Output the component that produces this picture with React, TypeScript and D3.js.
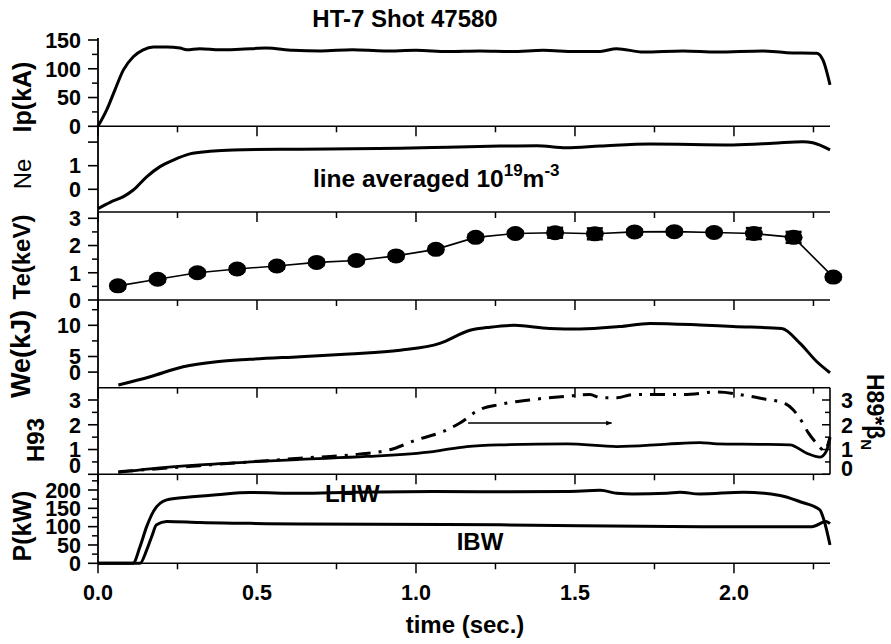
import React from 'react';
import * as d3 from 'd3';

// ---------------- DATA ----------------
const chartTitle = 'HT-7 Shot 47580';
const xTitle = 'time (sec.)';
const xMajorTicks = [0, 0.5, 1.0, 1.5, 2.0];
const xMajorLabels = ['0.0', '0.5', '1.0', '1.5', '2.0'];
const xMinorTicks = [0.25, 0.75, 1.25, 1.75, 2.25];

// Plasma current Ip (kA)
const ipT = [0, 0.027, 0.053, 0.08, 0.111, 0.142, 0.174, 0.216, 0.258, 0.279, 0.32, 0.384, 0.447, 0.53, 0.614, 0.7, 0.8, 0.9, 1.0, 1.1, 1.2, 1.3, 1.4, 1.5, 1.579, 1.631, 1.715, 1.84, 1.946, 2.091, 2.166, 2.26, 2.28, 2.302];
const ipV = [0, 28, 63, 98, 121, 133, 138, 138, 136, 133, 135, 133, 134, 136, 132, 131, 133, 131, 132, 130, 131, 130, 132, 130, 130, 135, 129, 131, 129, 131, 128, 127, 115, 72];

// Line averaged density Ne (10^19 m^-3)
const neT = [0, 0.038, 0.08, 0.111, 0.153, 0.195, 0.237, 0.289, 0.352, 0.425, 0.635, 0.8, 0.95, 1.1, 1.264, 1.38, 1.472, 1.579, 1.736, 1.997, 2.123, 2.217, 2.248, 2.302];
const neV = [-0.82, -0.55, -0.31, -0.03, 0.53, 0.96, 1.24, 1.5, 1.61, 1.67, 1.7, 1.72, 1.74, 1.78, 1.83, 1.85, 1.76, 1.83, 1.92, 1.88, 1.95, 2.02, 1.97, 1.67];

// Electron temperature Te (keV) with error bars
const teT = [0.0625, 0.1875, 0.3125, 0.4375, 0.5625, 0.6875, 0.8125, 0.9375, 1.0625, 1.1875, 1.3125, 1.4375, 1.5625, 1.6875, 1.8125, 1.9375, 2.0625, 2.1875, 2.3125];
const teV = [0.52, 0.76, 1.0, 1.14, 1.25, 1.38, 1.45, 1.62, 1.86, 2.3, 2.44, 2.47, 2.43, 2.5, 2.51, 2.48, 2.44, 2.3, 0.84];
const teErr = [0.1, 0.1, 0.1, 0.1, 0.1, 0.1, 0.1, 0.1, 0.1, 0.1, 0.1, 0.18, 0.2, 0.1, 0.1, 0.1, 0.2, 0.2, 0.1];

// Stored energy We (kJ)
const weT = [0.064, 0.164, 0.268, 0.373, 0.478, 0.635, 0.79, 0.95, 1.075, 1.17, 1.233, 1.31, 1.42, 1.516, 1.64, 1.736, 1.893, 1.997, 2.15, 2.208, 2.26, 2.302];
const weV = [0.43, 1.76, 3.37, 4.17, 4.55, 4.97, 5.4, 6.0, 7.1, 9.2, 9.7, 10.0, 9.5, 9.4, 9.8, 10.3, 10.05, 9.8, 9.5, 7.1, 4.2, 2.4];

// H93 (solid, left axis)
const h93T = [0.064, 0.164, 0.32, 0.478, 0.635, 0.845, 1.054, 1.16, 1.265, 1.475, 1.632, 1.79, 1.893, 1.946, 2.08, 2.176, 2.229, 2.27, 2.29, 2.302];
const h93V = [0.08, 0.22, 0.38, 0.5, 0.6, 0.72, 0.92, 1.12, 1.19, 1.23, 1.12, 1.22, 1.28, 1.23, 1.21, 1.19, 0.85, 0.69, 0.92, 1.46];

// H89*betaN (dash-dot, right axis)
const hbT = [0.064, 0.164, 0.32, 0.478, 0.635, 0.79, 0.918, 1.002, 1.086, 1.138, 1.2, 1.264, 1.368, 1.474, 1.547, 1.579, 1.632, 1.682, 1.84, 1.946, 2.05, 2.103, 2.155, 2.186, 2.213, 2.234, 2.26, 2.285, 2.302];
const hbV = [0.1, 0.2, 0.35, 0.5, 0.65, 0.78, 0.99, 1.39, 1.73, 2.07, 2.61, 2.82, 3.02, 3.15, 3.22, 3.1, 3.09, 3.22, 3.22, 3.32, 3.15, 3.02, 2.89, 2.61, 2.14, 1.67, 1.25, 0.95, 1.5];

// Heating power P (kW)
const lhwT = [0, 0.11, 0.132, 0.153, 0.174, 0.216, 0.28, 0.373, 0.478, 0.635, 0.8, 1.054, 1.3, 1.474, 1.579, 1.632, 1.682, 1.79, 1.83, 1.893, 2.03, 2.145, 2.208, 2.27, 2.283, 2.302];
const lhwV = [0, 0, 45, 100, 141, 173, 180, 187, 193, 191, 194, 196, 195, 196, 199, 191, 189, 191, 194, 189, 194, 185, 168, 146, 118, 50];
const ibwT = [0, 0.132, 0.153, 0.169, 0.184, 0.216, 0.32, 0.478, 0.635, 1.265, 1.9, 2.2, 2.245, 2.29, 2.302];
const ibwV = [0, 0, 36, 73, 105, 114, 111, 109, 107, 105, 100, 100, 100, 114, 108];

// Annotations (data coordinates)
const arrowStart = [1.164, 2.07];
const arrowEnd = [1.615, 2.07];

// Axis ticks / labels per panel
const ipTicks = [0, 50, 100, 150];
const ipMinor = [25, 75, 125];
const ipLabelVals = [0, 50, 100, 150];
const ipLabels = ['0', '50', '100', '150'];
const neTicks = [0, 1, 2];
const neMinor: number[] = [];
const neLabelVals = [0, 1];
const neLabels = ['0', '1'];
const teTicks = [0, 1, 2, 3];
const teMinor = [0.5, 1.5, 2.5];
const teLabelVals = [0, 1, 2, 3];
const teLabels = ['0', '1', '2', '3'];
const weTicks = [2.5, 5, 10];
const weMinor = [7.5, 12.5];
const weLabelVals = [2.5, 5, 10];
const weLabels = ['0', '5', '10'];
const h93Ticks = [0, 1, 2, 3];
const h93Minor = [0.5, 1.5, 2.5];
const h93LabelVals = [0.38, 1, 2, 3];
const h93Labels = ['0', '1', '2', '3'];
const hbLabelVals = [0.26, 1, 2, 3];
const hbLabels = ['0', '1', '2', '3'];
const pTicks = [0, 50, 100, 150, 200];
const pMinor = [25, 75, 125, 175, 225];
const pLabelVals = [0, 50, 100, 150, 200];
const pLabels = ['0', '50', '100', '150', '200'];

// ---------------- LAYOUT ----------------
const W = 891;
const H = 644;
const X0 = 98;
const X1 = 830;
const FONT = "'Liberation Sans', Arial, Helvetica, sans-serif";

const x = d3.scaleLinear().domain([0, 2.302]).range([X0, X1]);

const yIp = d3.scaleLinear().domain([0, 150]).range([126.3, 40]);
const yNe = d3.scaleLinear().domain([0, 1]).range([189.3, 165.7]);
const yTe = d3.scaleLinear().domain([0, 3]).range([300, 218.3]);
const yWe = d3.scaleLinear().domain([0, 10]).range([387.7, 325.3]);
const yH = d3.scaleLinear().domain([0, 3]).range([474.3, 400]);
const yP = d3.scaleLinear().domain([0, 200]).range([563.3, 490]);

type Panel = {
  scale: d3.ScaleLinear<number, number>;
  bottom: number;
  ticks: number[];
  minor: number[];
  labelVals: number[];
  labels: string[];
  title: string;
  tx: number;
  ty: number;
  tsize: number;
  bold: boolean;
};

const panels: Panel[] = [
  { scale: yIp, bottom: 126.3, ticks: ipTicks, minor: ipMinor, labelVals: ipLabelVals, labels: ipLabels, title: 'Ip(kA)', tx: 31, ty: 97, tsize: 25, bold: true },
  { scale: yNe, bottom: 212, ticks: neTicks, minor: neMinor, labelVals: neLabelVals, labels: neLabels, title: 'Ne', tx: 31, ty: 174, tsize: 24, bold: false },
  { scale: yTe, bottom: 300, ticks: teTicks, minor: teMinor, labelVals: teLabelVals, labels: teLabels, title: 'Te(keV)', tx: 30, ty: 257, tsize: 24, bold: true },
  { scale: yWe, bottom: 387.7, ticks: weTicks, minor: weMinor, labelVals: weLabelVals, labels: weLabels, title: 'We(kJ)', tx: 30, ty: 354, tsize: 27, bold: true },
  { scale: yH, bottom: 474.3, ticks: h93Ticks, minor: h93Minor, labelVals: h93LabelVals, labels: h93Labels, title: 'H93', tx: 44, ty: 440, tsize: 24, bold: true },
  { scale: yP, bottom: 563.3, ticks: pTicks, minor: pMinor, labelVals: pLabelVals, labels: pLabels, title: 'P(kW)', tx: 31, ty: 526, tsize: 25, bold: true },
];

function pathOf(ts: number[], vs: number[], ys: d3.ScaleLinear<number, number>, curve = d3.curveMonotoneX) {
  const pts = ts.map((t, i) => [t, vs[i]] as [number, number]);
  return d3.line<[number, number]>().x(d => x(d[0])).y(d => ys(d[1])).curve(curve)(pts) || '';
}

export default function App() {
  const tickFont = 21.5;
  return (
    <svg width={W} height={H} style={{ position: 'absolute', left: 0, top: 0, background: '#fff' }} fontFamily={FONT}>
      <rect x={0} y={0} width={W} height={H} fill="#fff" />
      <text x={405} y={27} fontSize={24} fontWeight="bold" textAnchor="middle">{chartTitle}</text>

      {/* left axis line */}
      <line x1={X0} x2={X0} y1={38} y2={563.3} stroke="#000" strokeWidth={1.8} />

      {panels.map((p, pi) => (
        <g key={pi}>
          <line x1={X0} x2={X1} y1={p.bottom} y2={p.bottom} stroke="#000" strokeWidth={1.6} />
          {xMajorTicks.map((t, i) => (
            <line key={'M' + i} x1={x(t)} x2={x(t)} y1={p.bottom} y2={p.bottom + 10} stroke="#000" strokeWidth={1.5} />
          ))}
          {xMinorTicks.map((t, i) => (
            <line key={'m' + i} x1={x(t)} x2={x(t)} y1={p.bottom} y2={p.bottom + 6} stroke="#000" strokeWidth={1.5} />
          ))}
          {p.ticks.map((v, i) => (
            <line key={'yt' + i} x1={X0 - 10} x2={X0} y1={p.scale(v)} y2={p.scale(v)} stroke="#000" strokeWidth={1.6} />
          ))}
          {p.minor.map((v, i) => (
            <line key={'ym' + i} x1={X0 - 6} x2={X0} y1={p.scale(v)} y2={p.scale(v)} stroke="#000" strokeWidth={1.5} />
          ))}
          {p.labelVals.map((v, i) => (
            <text key={'yl' + i} x={81} y={p.scale(v)} dy="0.36em" fontSize={tickFont} fontWeight="bold" textAnchor="end">{p.labels[i]}</text>
          ))}
          <text transform={`translate(${p.tx},${p.ty}) rotate(-90)`} fontSize={p.tsize} fontWeight={p.bold ? 'bold' : 'normal'} textAnchor="middle">{p.title}</text>
        </g>
      ))}

      {xMajorTicks.map((t, i) => (
        <text key={'xl' + i} x={x(t)} y={600} fontSize={tickFont} fontWeight="bold" textAnchor="middle">{xMajorLabels[i]}</text>
      ))}
      <text x={465} y={633} fontSize={24} fontWeight="bold" textAnchor="middle">{xTitle}</text>

      {/* right axis for H89*betaN */}
      <line x1={X1} x2={X1} y1={387.7} y2={474.3} stroke="#000" strokeWidth={1.6} />
      {h93Ticks.map((v, i) => (
        <line key={'rt' + i} x1={X1 - 8} x2={X1} y1={yH(v)} y2={yH(v)} stroke="#000" strokeWidth={1.5} />
      ))}
      {h93Minor.map((v, i) => (
        <line key={'rm' + i} x1={X1 - 5} x2={X1} y1={yH(v)} y2={yH(v)} stroke="#000" strokeWidth={1.5} />
      ))}
      {hbLabelVals.map((v, i) => (
        <text key={'rl' + i} x={841} y={yH(v)} dy="0.36em" fontSize={tickFont} fontWeight="bold" textAnchor="start">{hbLabels[i]}</text>
      ))}
      <text transform="translate(867,412) rotate(90)" fontSize={23} fontWeight="bold" textAnchor="middle">
        H89*β<tspan fontSize={15} dy={6}>N</tspan>
      </text>

      {/* data curves */}
      <path d={pathOf(ipT, ipV, yIp)} fill="none" stroke="#000" strokeWidth={3} strokeLinejoin="round" />
      <path d={pathOf(neT, neV, yNe)} fill="none" stroke="#000" strokeWidth={3} strokeLinejoin="round" />
      <text x={313} y={187} fontSize={24.5} fontWeight="bold">line averaged 10<tspan fontSize={17} dy={-11}>19</tspan><tspan dy={11}>m</tspan><tspan fontSize={17} dy={-11}>-3</tspan></text>

      <path d={pathOf(teT, teV, yTe, d3.curveLinear)} fill="none" stroke="#000" strokeWidth={1.6} />
      {teT.map((t, i) => {
        const cx = x(t);
        const y1 = yTe(teV[i] - teErr[i]);
        const y2 = yTe(teV[i] + teErr[i]);
        return (
          <g key={'te' + i}>
            <line x1={cx} x2={cx} y1={y1} y2={y2} stroke="#000" strokeWidth={2} />
            <line x1={cx - 8} x2={cx + 8} y1={y1} y2={y1} stroke="#000" strokeWidth={2.5} />
            <line x1={cx - 8} x2={cx + 8} y1={y2} y2={y2} stroke="#000" strokeWidth={2.5} />
            <ellipse cx={cx} cy={yTe(teV[i])} rx={9} ry={7.5} fill="#000" />
          </g>
        );
      })}

      <path d={pathOf(weT, weV, yWe)} fill="none" stroke="#000" strokeWidth={3} strokeLinejoin="round" />

      <path d={pathOf(h93T, h93V, yH)} fill="none" stroke="#000" strokeWidth={2.8} strokeLinejoin="round" />
      <path d={pathOf(hbT, hbV, yH)} fill="none" stroke="#000" strokeWidth={3} strokeDasharray="15,8,3,8" strokeLinejoin="round" />
      <defs>
        <marker id="arr" viewBox="0 0 10 10" refX={9} refY={5} markerWidth={10} markerHeight={6} orient="auto" markerUnits="userSpaceOnUse">
          <path d="M0,1 L10,5 L0,9 Z" fill="#000" />
        </marker>
      </defs>
      <line x1={x(arrowStart[0])} y1={yH(arrowStart[1])} x2={x(arrowEnd[0])} y2={yH(arrowEnd[1])} stroke="#000" strokeWidth={1.5} markerEnd="url(#arr)" />

      <path d={pathOf(lhwT, lhwV, yP)} fill="none" stroke="#000" strokeWidth={3} strokeLinejoin="round" />
      <path d={pathOf(ibwT, ibwV, yP)} fill="none" stroke="#000" strokeWidth={3} strokeLinejoin="round" />
      <text x={x(0.714)} y={yP(168)} fontSize={24} fontWeight="bold">LHW</text>
      <text x={x(1.128)} y={yP(36)} fontSize={24} fontWeight="bold">IBW</text>
    </svg>
  );
}
